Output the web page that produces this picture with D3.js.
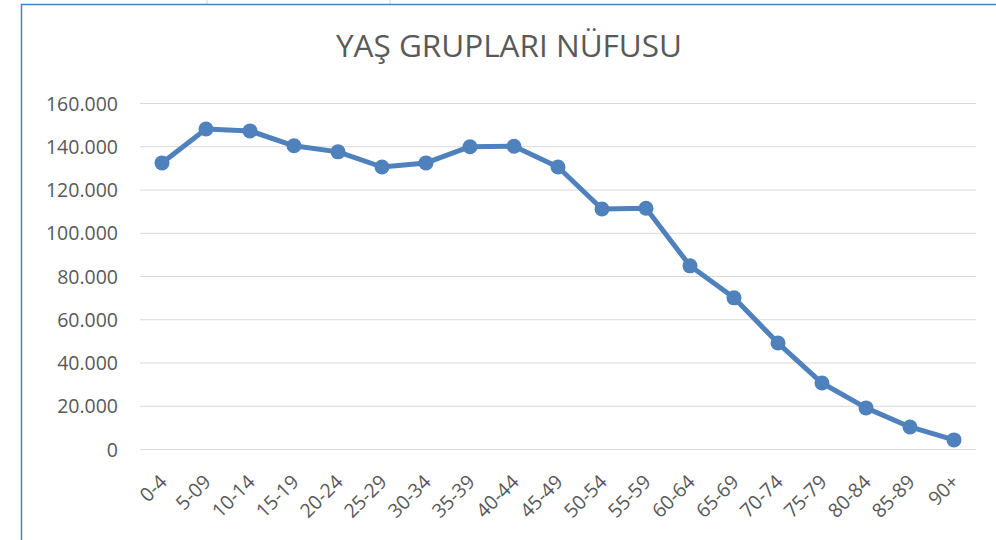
<!DOCTYPE html>
<html>
<head>
<meta charset="utf-8">
<script src="https://cdn.jsdelivr.net/npm/d3@7/dist/d3.min.js"></script>
<style>
  body { margin: 0; background: #fff; }
  svg { display: block; font-family: "Open Sans", "Noto Sans", sans-serif; }
</style>
</head>
<body>
<svg width="996" height="540"></svg>
<script>
// age groups and population
const groups = ['0-4', '5-09', '10-14', '15-19', '20-24', '25-29', '30-34', '35-39', '40-44',
  '45-49', '50-54', '55-59', '60-64', '65-69', '70-74', '75-79', '80-84', '85-89', '90+'];
const population = [132300, 148000, 147100, 140200, 137400, 130400, 132300, 139800, 140000,
  130400, 111000, 111300, 84700, 69900, 49000, 30500, 19000, 10200, 4200];
const yTicks = [0, 20000, 40000, 60000, 80000, 100000, 120000, 140000, 160000];

const svg = d3.select('svg');
const margin = { top: 103, right: 20, bottom: 91, left: 140 };
const width = 996, height = 540;
const plotW = 976 - margin.left;
const plotH = 449 - margin.top;

// spreadsheet cell lines above the chart frame
svg.append('g').selectAll('line')
  .data([207, 390])
  .join('line')
  .attr('x1', d => d).attr('x2', d => d)
  .attr('y1', 0).attr('y2', 4)
  .attr('stroke', '#d0d0d0');

// chart frame
svg.append('path')
  .attr('d', `M21.5,${height} V4.5 H${width}`)
  .attr('fill', 'none')
  .attr('stroke', '#4f81bd')
  .attr('stroke-width', 1.5);

svg.append('text')
  .attr('x', 509)
  .attr('y', 57)
  .attr('text-anchor', 'middle')
  .attr('font-size', '31.5px')
  .attr('fill', '#595959')
  .text('YAŞ GRUPLARI NÜFUSU');

const g = svg.append('g').attr('transform', `translate(${margin.left},${margin.top})`);

const x = d3.scaleBand().domain(groups).range([0, plotW]);
const y = d3.scaleLinear().domain([0, 160000]).range([plotH, 0]);

const fmt = d => d === 0 ? '0' : d3.format(',')(d).replace(/,/g, '.');

// grid
g.append('g')
  .selectAll('line')
  .data(yTicks)
  .join('line')
  .attr('x1', 0)
  .attr('x2', plotW)
  .attr('y1', d => y(d) + 0.5)
  .attr('y2', d => y(d) + 0.5)
  .attr('stroke', '#d9d9d9')
  .attr('stroke-width', 1.2);

// y axis labels
const yAxis = g.append('g')
  .call(d3.axisLeft(y).tickValues(yTicks).tickFormat(fmt).tickSize(0).tickPadding(22));
yAxis.select('.domain').remove();
yAxis.selectAll('text')
  .attr('font-size', '19.5px')
  .attr('fill', '#595959')
  .attr('dy', '0.36em')
  .attr('font-family', '"Open Sans", sans-serif');

// x axis labels
const xAxis = g.append('g')
  .attr('transform', `translate(0,${plotH})`)
  .call(d3.axisBottom(x).tickSize(0));
xAxis.select('.domain').remove();
xAxis.selectAll('text')
  .attr('font-size', '19.5px')
  .attr('fill', '#595959')
  .attr('font-family', '"Open Sans", sans-serif')
  .attr('text-anchor', 'end')
  .attr('dy', 0)
  .attr('transform', 'translate(4,32) rotate(-45)');

const cx = d => x(d) + x.bandwidth() / 2;

const line = d3.line()
  .x((d, i) => cx(groups[i]))
  .y(d => y(d));

g.append('path')
  .datum(population)
  .attr('fill', 'none')
  .attr('stroke', '#4f81bd')
  .attr('stroke-width', 5)
  .attr('stroke-linejoin', 'round')
  .attr('d', line);

g.append('g')
  .selectAll('circle')
  .data(population)
  .join('circle')
  .attr('cx', (d, i) => cx(groups[i]))
  .attr('cy', d => y(d))
  .attr('r', 7.5)
  .attr('fill', '#4f81bd');
</script>
</body>
</html>
